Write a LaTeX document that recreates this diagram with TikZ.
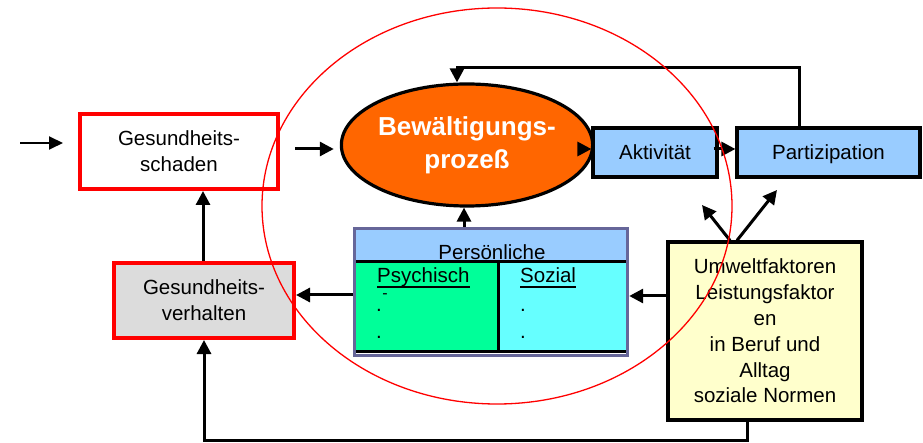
\documentclass[tikz,border=0pt]{standalone}
\usepackage{fontspec}
\setmainfont{Liberation Sans}
\usetikzlibrary{arrows.meta,shapes.geometric}

\definecolor{boxblue}{HTML}{99CCFF}
\definecolor{copeorange}{HTML}{FF6600}
\definecolor{psygreen}{HTML}{00FF99}
\definecolor{soccyan}{HTML}{66FFFF}
\definecolor{envyellow}{HTML}{FFFFCC}
\definecolor{framepurple}{HTML}{666699}
\definecolor{lightgraybox}{HTML}{DCDCDC}

\tikzset{
  txt/.style={font=\fontsize{20.5pt}{26pt}\selectfont, align=center, text=black},
  redbox/.style={txt, draw=red, line width=4pt, inner sep=0pt},
  bluebox/.style={txt, draw=black, fill=boxblue, line width=3.2pt, inner sep=0pt, text height=14.7pt, text depth=0pt},
  arr/.style={line width=3pt, -{Triangle[length=14pt,width=14pt]}},
  thinarr/.style={line width=2pt, -{Triangle[length=14pt,width=13pt]}},
}

\begin{document}
\begin{tikzpicture}[x=1pt,y=-1pt]
\useasboundingbox (0,0) rectangle (923,443);

% health damage and health behaviour
\node[redbox, minimum width=198pt, minimum height=75pt] (schaden) at (179,151.5) {Gesundheits-\\schaden};
\node[redbox, fill=lightgraybox, minimum width=180pt, minimum height=75pt] (verhalten) at (204,300.5) {Gesundheits-\\verhalten};

% coping process
\node[ellipse, draw=black, fill=copeorange, line width=3.2pt, minimum width=200pt, minimum height=122pt, inner sep=0pt,
      font=\fontsize{26pt}{33pt}\selectfont\bfseries, text=white, align=center] (ell) at (467,145) {Bewältigungs-\\prozeß};

% activity and participation
\node[bluebox, minimum width=124pt, minimum height=49pt] (akt) at (655,152.5) {Aktivität};
\node[bluebox, minimum width=183pt, minimum height=49pt] (part) at (828.5,152.5) {Partizipation};

% environmental factors
\node[txt, draw=black, fill=envyellow, line width=3.2pt, minimum width=194pt, minimum height=178pt, inner sep=0pt,
      font=\fontsize{20.5pt}{25.8pt}\selectfont] (umwelt) at (765,331)
  {Umweltfaktoren\\Leistungsfaktor\\en\\in Beruf und\\Alltag\\soziale Normen};

% personal factors table
\fill[boxblue] (353,227) rectangle (629,262);
\fill[white] (353,351) rectangle (629,357);
\fill[psygreen] (356,262) rectangle (498,351);
\fill[soccyan] (498,262) rectangle (627,351);
\draw[line width=3pt] (356,262) -- (627,262);
\draw[line width=3pt] (356,351) -- (627,351);
\draw[line width=3pt] (498,262) -- (498,351);
\draw[framepurple, line width=3pt] (354.5,228.5) rectangle (627.5,355.5);
\node[minimum width=276pt, minimum height=130pt, inner sep=0pt] (pers) at (491,292) {};
\node[txt, anchor=base] (perslabel) at (492,260) {Persönliche};
\node[txt, anchor=base west, inner sep=0pt] (psy) at (377,283) {Psychisch};
\node[txt, anchor=base west, inner sep=0pt] (soz) at (520,283) {Sozial};
\draw[line width=1.4pt] ([yshift=-4pt]psy.base west) -- ([yshift=-4pt]psy.base east);
\draw[line width=1.4pt] ([yshift=-4pt]soz.base west) -- ([yshift=-4pt]soz.base east);
\node[font=\fontsize{16pt}{18pt}\selectfont, anchor=base, inner sep=0pt] (psydash) at (385,299) {-};
\node[txt, anchor=base, inner sep=0pt] (psydot1) at (379,312) {.};
\node[txt, anchor=base, inner sep=0pt] (psydot2) at (379,338) {.};
\node[txt, anchor=base, inner sep=0pt] (sozdot1) at (523,312) {.};
\node[txt, anchor=base, inner sep=0pt] (sozdot2) at (523,338) {.};

% connectors
\coordinate (entry) at (20,143);
\coordinate (feedback) at (457,68);
\coordinate (low) at (0,440);
\coordinate (upA) at (702,205);
\coordinate (upB) at (777,190);

\draw[thinarr] (entry) -- ([xshift=-15pt]schaden.west |- entry);
\draw[arr] ([xshift=15pt]schaden.east |- 0,149) -- ([xshift=-6pt]ell.west |- 0,149);
\draw[arr] ([xshift=-7pt]ell.east |- 0,149) -- (akt.west |- 0,149);
\draw[arr] ([xshift=-5pt]akt.east |- 0,149) -- (part.west |- 0,149);
\draw[arr] ([xshift=-29.5pt]part.north) |- (feedback) -- (feedback |- ell.north);
\draw[arr] ([xshift=-3pt]ell.south |- pers.north) -- ([xshift=-3pt]ell.south);
\draw[arr] (umwelt.west |- 0,296) -- (pers.east |- 0,296);
\draw[arr] (pers.west |- 0,295) -- (verhalten.east |- 0,295);
\draw[arr] ([xshift=-1pt]verhalten.north) -- ([xshift=-1pt]verhalten.north |- schaden.south);
\draw[arr] ([xshift=-18pt]umwelt.south) |- (low -| verhalten.south) -- (verhalten.south);
\draw[arr] ([xshift=-35pt]umwelt.north) -- (upA);
\draw[arr] ([xshift=-28pt]umwelt.north) -- (upB);

% outline of the coping field
\draw[red, line width=1.3pt] (497,206) ellipse [x radius=235, y radius=198];
\end{tikzpicture}
\end{document}
